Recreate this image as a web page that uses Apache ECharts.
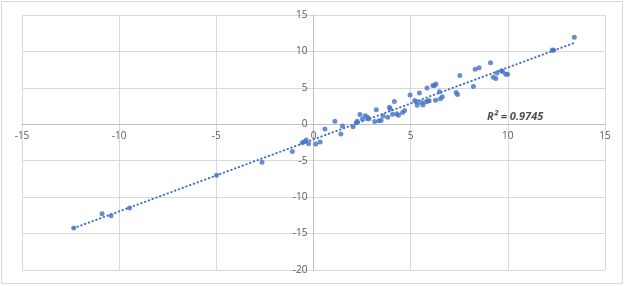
<!DOCTYPE html>
<html>
<head>
<meta charset="utf-8">
<script src="https://cdn.jsdelivr.net/npm/echarts@6/dist/echarts.min.js"></script>
<style>
html,body{margin:0;padding:0;background:#fff;}
#chart{width:625px;height:286px;}
</style>
</head>
<body>
<div id="chart"></div>
<script>
// Data points [x, y]
const points = [
  [-12.34,-14.22],[-10.88,-12.28],[-10.42,-12.56],[-9.47,-11.5],[-4.99,-7.0],
  [-2.65,-5.22],[-1.09,-3.75],[-0.58,-2.52],[-0.47,-2.40],[-0.37,-2.15],
  [-0.25,-2.68],[0.12,-2.70],[0.34,-2.42],[0.59,-0.66],[1.10,0.41],
  [1.41,-1.35],[1.49,-0.23],[2.04,-0.33],[2.21,0.22],[2.25,0.41],
  [2.39,1.34],[2.52,0.71],[2.66,1.16],[2.78,0.96],[2.84,0.73],
  [3.15,0.38],[3.23,1.98],[3.37,0.50],[3.48,0.52],[3.58,1.14],
  [3.82,0.96],[3.91,2.34],[3.95,2.10],[4.07,1.38],[4.16,3.13],
  [4.29,1.44],[4.37,1.23],[4.58,1.63],[4.69,1.89],[4.97,4.03],
  [5.21,3.25],[5.30,3.06],[5.34,2.61],[5.45,4.28],[5.56,3.00],
  [5.63,2.66],[5.79,3.08],[5.84,4.97],[5.90,3.18],[5.95,3.22],
  [6.14,5.31],[6.23,5.33],[6.30,5.52],[6.28,3.30],[6.48,4.45],
  [6.53,3.50],[6.63,3.78],[7.34,4.35],[7.41,4.10],[7.53,6.68],
  [8.23,5.19],[8.32,7.55],[8.52,7.75],[9.11,8.46],[9.25,6.47],
  [9.38,6.29],[9.44,7.04],[9.67,7.34],[9.73,7.24],[9.89,6.86],
  [9.99,6.86],[12.29,10.19],[12.36,10.16],[13.42,11.96]
];
const xTicks = [-15, -10, -5, 0, 5, 10, 15];
const yTicks = [-20, -15, -10, -5, 0, 5, 10, 15];
const r2Label = 'R² = 0.9745';

// Linear least-squares trendline computed from the points
function linearFit(pts) {
  const n = pts.length;
  let sx = 0, sy = 0, sxx = 0, sxy = 0;
  pts.forEach(p => { sx += p[0]; sy += p[1]; sxx += p[0]*p[0]; sxy += p[0]*p[1]; });
  const slope = (n*sxy - sx*sy) / (n*sxx - sx*sx);
  const intercept = (sy - slope*sx) / n;
  return { slope, intercept };
}
const fit = linearFit(points);
const xsAll = points.map(p => p[0]);
const xMin = Math.min(...xsAll), xMax = Math.max(...xsAll);
const trend = [[xMin, fit.slope*xMin + fit.intercept], [xMax, fit.slope*xMax + fit.intercept]];

const W = 625, H = 286;
const G = { left: 22, right: 20, top: 15, bottom: 16 };
const gw = W - G.left - G.right, gh = H - G.top - G.bottom;
const xLo = xTicks[0], xHi = xTicks[xTicks.length-1];
const yLo = yTicks[0], yHi = yTicks[yTicks.length-1];
// shift axes so they sit on the zero lines
const xAxisOffset = -gh * (0 - yLo) / (yHi - yLo);
const yAxisOffset = -gw * (0 - xLo) / (xHi - xLo);

const blue = '#4472C4';
const labelStyle = { color: '#595959', fontSize: 10, fontFamily: 'Open Sans, Liberation Sans, sans-serif' };

const chart = echarts.init(document.getElementById('chart'), null, { renderer: 'canvas' });
chart.setOption({
  animation: false,
  backgroundColor: '#fff',
  grid: Object.assign({ containLabel: false }, G),
  xAxis: {
    type: 'value', min: xLo, max: xHi, interval: 5, position: 'bottom', offset: xAxisOffset,
    axisLine: { show: true, onZero: false, lineStyle: { color: '#bfbfbf', width: 1 } },
    axisTick: { show: false },
    axisLabel: Object.assign({ margin: 7 }, labelStyle),
    splitLine: { show: true, lineStyle: { color: '#d9d9d9', width: 1 } }
  },
  yAxis: {
    type: 'value', min: yLo, max: yHi, interval: 5, position: 'left', offset: yAxisOffset,
    axisLine: { show: true, onZero: false, lineStyle: { color: '#bfbfbf', width: 1 } },
    axisTick: { show: false },
    axisLabel: Object.assign({ margin: 6 }, labelStyle),
    splitLine: { show: true, lineStyle: { color: '#d9d9d9', width: 1 } }
  },
  graphic: [
    { type: 'rect', shape: { x: 1.5, y: 1.5, width: 621, height: 282 },
      style: { fill: 'none', stroke: '#d9d9d9', lineWidth: 1 }, silent: true, z: -1 },
    { type: 'text', left: 487, top: 111,
      style: { text: r2Label, fill: '#505050', font: 'italic bold 11px "Open Sans", sans-serif' } }
  ],
  series: [
    {
      type: 'line', data: trend, showSymbol: false, symbol: 'none',
      lineStyle: { color: blue, width: 2, type: [0.5, 3.5], cap: 'round' }, z: 2
    },
    {
      type: 'scatter', data: points, symbol: 'circle', symbolSize: 5,
      itemStyle: { color: blue }, z: 3
    }
  ]
});
</script>
</body>
</html>
